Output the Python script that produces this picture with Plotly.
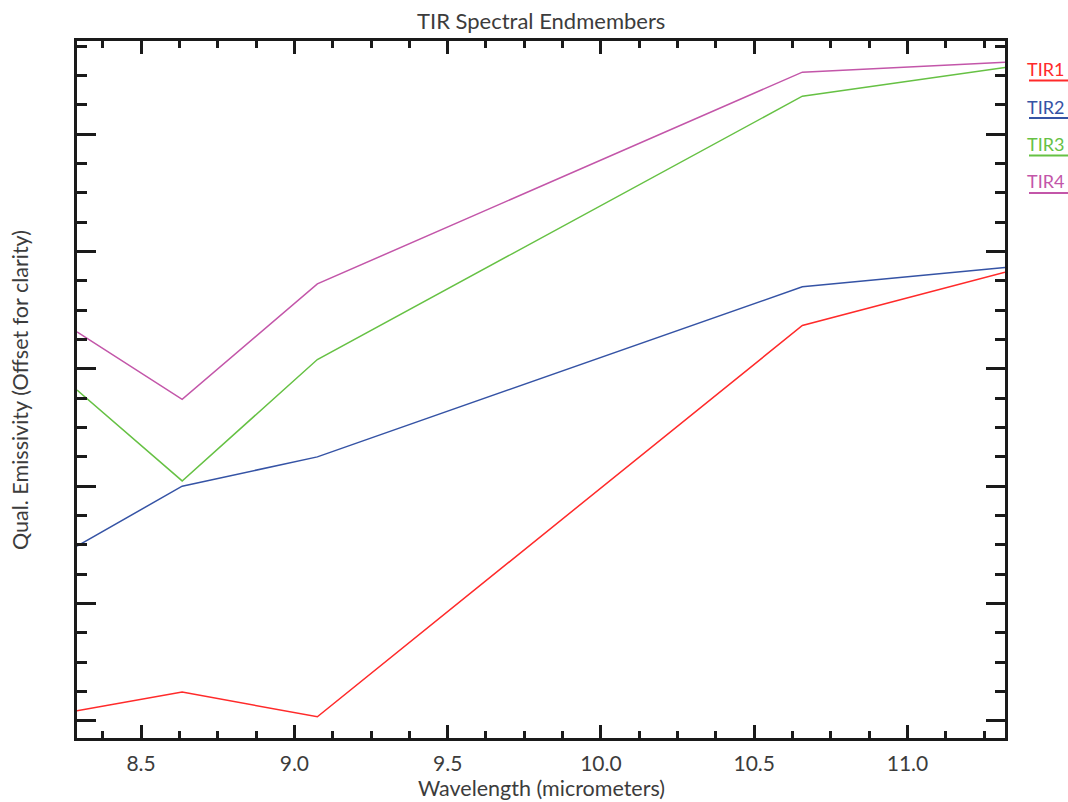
import plotly.graph_objects as go

# ASTER TIR band centres (micrometers)
wavelength = [8.291, 8.634, 9.075, 10.657, 11.318]

# Endmember spectra (qualitative emissivity, offset for clarity)
series_names = ["TIR1", "TIR2", "TIR3", "TIR4"]
tir1 = [0.017, 0.049, 0.007, 0.674, 0.765]
tir2 = [0.298, 0.400, 0.450, 0.740, 0.773]
tir3 = [0.564, 0.409, 0.616, 1.065, 1.114]
tir4 = [0.663, 0.548, 0.745, 1.106, 1.123]
series_values = [tir1, tir2, tir3, tir4]
series_colors = ["#ff2a2a", "#3553a5", "#66c144", "#c356a9"]

x_tick_vals = [8.5, 9.0, 9.5, 10.0, 10.5, 11.0]
x_tick_text = ["8.5", "9.0", "9.5", "10.0", "10.5", "11.0"]

W, H = 1068, 802
L, R, T, B = 77, 63, 41, 64
FONT = "Lato"
TEXT_COLOR = "#3c3c3c"


def px_x(px):
    return (px - L) / (W - L - R)


def px_y(py):
    return 1 - (py - T) / (H - T - B)


fig = go.Figure()
for name, vals, col in zip(series_names, series_values, series_colors):
    fig.add_trace(go.Scatter(x=wavelength, y=vals, mode="lines", name=name,
                             line=dict(color=col, width=1.5)))

axis_common = dict(
    showline=True, linecolor="#1a1a1a", linewidth=3, mirror="ticks",
    ticks="inside", tickcolor="#1a1a1a", tickwidth=2.5,
    showgrid=False, zeroline=False,
)

fig.update_xaxes(
    range=[wavelength[0], wavelength[-1]],
    tickvals=x_tick_vals, ticktext=x_tick_text, ticklen=13,
    minor=dict(dtick=0.125, tick0=8.5, ticklen=7, tickwidth=2.5,
               tickcolor="#1a1a1a", ticks="inside"),
    tickfont=dict(family=FONT, size=21, color=TEXT_COLOR),
    ticklabelstandoff=5,
    **axis_common,
)
fig.update_yaxes(
    range=[-0.0293, 1.1591],
    tick0=0, dtick=0.2, ticklen=19, showticklabels=False,
    minor=dict(dtick=0.05, tick0=0, ticklen=10, tickwidth=2.5,
               tickcolor="#1a1a1a", ticks="inside"),
    **axis_common,
)

annotations = [
    dict(text="TIR Spectral Endmembers", x=0.5, y=px_y(20), xref="paper", yref="paper",
         xanchor="center", yanchor="middle", showarrow=False,
         font=dict(family=FONT, size=22, color=TEXT_COLOR)),
    dict(text="Wavelength (micrometers)", x=0.5, y=px_y(788), xref="paper", yref="paper",
         xanchor="center", yanchor="middle", showarrow=False,
         font=dict(family=FONT, size=21.5, color=TEXT_COLOR)),
    dict(text="Qual. Emissivity (Offset for clarity)", x=px_x(20), y=px_y(390),
         xref="paper", yref="paper", xanchor="center", yanchor="middle",
         textangle=-90, showarrow=False,
         font=dict(family=FONT, size=21.5, color=TEXT_COLOR)),
]
shapes = []
for i, (name, col) in enumerate(zip(series_names, series_colors)):
    ty = 69 + i * 37.5
    annotations.append(dict(text=name, x=px_x(1027), y=px_y(ty), xref="paper", yref="paper",
                            xanchor="left", yanchor="middle", showarrow=False,
                            borderpad=0, xshift=-1,
                            font=dict(family=FONT, size=18, color=col)))
    uy = px_y(80.5 + i * 37.5)
    shapes.append(dict(type="line", xref="paper", yref="paper",
                       x0=px_x(1029), x1=px_x(1070), y0=uy, y1=uy,
                       line=dict(color=col, width=2)))

fig.update_layout(
    width=W, height=H,
    margin=dict(l=L, r=R, t=T, b=B),
    paper_bgcolor="white", plot_bgcolor="white",
    showlegend=False,
    annotations=annotations, shapes=shapes,
)

fig.write_html("out.html")
